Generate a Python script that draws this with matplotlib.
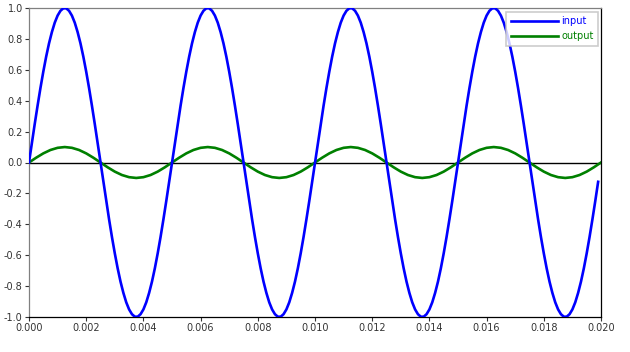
import numpy as np
import matplotlib
matplotlib.use('Agg')
import matplotlib.pyplot as plt

# input signal, sampled every 0.1 ms (200 samples, 4 cycles)
input_step = 0.0001
input_values = [
    0.000, 0.125, 0.249, 0.368, 0.482, 0.588, 0.685, 0.771, 0.844, 0.905, 0.951, 0.982, 0.998,
    0.998, 0.982, 0.951, 0.905, 0.844, 0.771, 0.685, 0.588, 0.482, 0.368, 0.249, 0.125,
    0.000, -0.125, -0.249, -0.368, -0.482, -0.588, -0.685, -0.771, -0.844, -0.905, -0.951, -0.982, -0.998,
    -0.998, -0.982, -0.951, -0.905, -0.844, -0.771, -0.685, -0.588, -0.482, -0.368, -0.249, -0.125,
    0.000, 0.125, 0.249, 0.368, 0.482, 0.588, 0.685, 0.771, 0.844, 0.905, 0.951, 0.982, 0.998,
    0.998, 0.982, 0.951, 0.905, 0.844, 0.771, 0.685, 0.588, 0.482, 0.368, 0.249, 0.125,
    0.000, -0.125, -0.249, -0.368, -0.482, -0.588, -0.685, -0.771, -0.844, -0.905, -0.951, -0.982, -0.998,
    -0.998, -0.982, -0.951, -0.905, -0.844, -0.771, -0.685, -0.588, -0.482, -0.368, -0.249, -0.125,
    0.000, 0.125, 0.249, 0.368, 0.482, 0.588, 0.685, 0.771, 0.844, 0.905, 0.951, 0.982, 0.998,
    0.998, 0.982, 0.951, 0.905, 0.844, 0.771, 0.685, 0.588, 0.482, 0.368, 0.249, 0.125,
    0.000, -0.125, -0.249, -0.368, -0.482, -0.588, -0.685, -0.771, -0.844, -0.905, -0.951, -0.982, -0.998,
    -0.998, -0.982, -0.951, -0.905, -0.844, -0.771, -0.685, -0.588, -0.482, -0.368, -0.249, -0.125,
    0.000, 0.125, 0.249, 0.368, 0.482, 0.588, 0.685, 0.771, 0.844, 0.905, 0.951, 0.982, 0.998,
    0.998, 0.982, 0.951, 0.905, 0.844, 0.771, 0.685, 0.588, 0.482, 0.368, 0.249, 0.125,
    0.000, -0.125, -0.249, -0.368, -0.482, -0.588, -0.685, -0.771, -0.844, -0.905, -0.951, -0.982, -0.998,
    -0.998, -0.982, -0.951, -0.905, -0.844, -0.771, -0.685, -0.588, -0.482, -0.368, -0.249, -0.125,
]

# output signal, sampled every 0.25 ms (81 samples)
output_step = 0.00025
output_values = [
    0.000, 0.031, 0.059, 0.081, 0.095, 0.100, 0.095, 0.081, 0.059, 0.031,
    0.000, -0.031, -0.059, -0.081, -0.095, -0.100, -0.095, -0.081, -0.059, -0.031,
    0.000, 0.031, 0.059, 0.081, 0.095, 0.100, 0.095, 0.081, 0.059, 0.031,
    0.000, -0.031, -0.059, -0.081, -0.095, -0.100, -0.095, -0.081, -0.059, -0.031,
    0.000, 0.031, 0.059, 0.081, 0.095, 0.100, 0.095, 0.081, 0.059, 0.031,
    0.000, -0.031, -0.059, -0.081, -0.095, -0.100, -0.095, -0.081, -0.059, -0.031,
    0.000, 0.031, 0.059, 0.081, 0.095, 0.100, 0.095, 0.081, 0.059, 0.031,
    0.000, -0.031, -0.059, -0.081, -0.095, -0.100, -0.095, -0.081, -0.059, -0.031,
    0.000,
]

x_ticks = [0.000, 0.002, 0.004, 0.006, 0.008, 0.010, 0.012, 0.014, 0.016, 0.018, 0.020]
y_ticks = [-1.0, -0.8, -0.6, -0.4, -0.2, 0.0, 0.2, 0.4, 0.6, 0.8, 1.0]

t_in = np.arange(len(input_values)) * input_step
t_out = np.arange(len(output_values)) * output_step

fig = plt.figure(figsize=(6.3, 3.52), dpi=100)
fig.patch.set_facecolor('white')
ax = fig.add_axes([29 / 630, 1 - 317 / 352, 572 / 630, 309 / 352])

ax.axhline(0, color='black', linewidth=1.0, zorder=1)
ax.plot(t_in, input_values, color='#0000ff', linewidth=1.9, label='input', zorder=3)
ax.plot(t_out, output_values, color='#008000', linewidth=1.9, label='output', zorder=2)

ax.set_xlim(0, 0.02)
ax.set_ylim(-1.0, 1.0)
ax.set_xticks(x_ticks)
ax.set_xticklabels([f'{v:.3f}' for v in x_ticks])
ax.set_yticks(y_ticks)
ax.set_yticklabels([f'{v:.1f}' for v in y_ticks])
ax.tick_params(axis='both', labelsize=7, colors='#333333', length=3, width=0.8, pad=1.5)

ax.spines['left'].set_color('#808080')
ax.spines['top'].set_color('#808080')
ax.spines['right'].set_color('black')
ax.spines['bottom'].set_color('black')
for s in ax.spines.values():
    s.set_linewidth(0.9)

leg = ax.legend(loc='upper right', fontsize=7, frameon=True, fancybox=False,
                edgecolor='#c0c0c0', handlelength=4.8, handletextpad=0.4,
                borderpad=0.45, labelspacing=0.55, borderaxespad=0,
                bbox_to_anchor=(0.995, 0.988))
leg.get_frame().set_linewidth(1.2)
for txt, c in zip(leg.get_texts(), ['#0000ff', '#008000']):
    txt.set_color(c)

fig.savefig('out.png', dpi=100, facecolor='white')
